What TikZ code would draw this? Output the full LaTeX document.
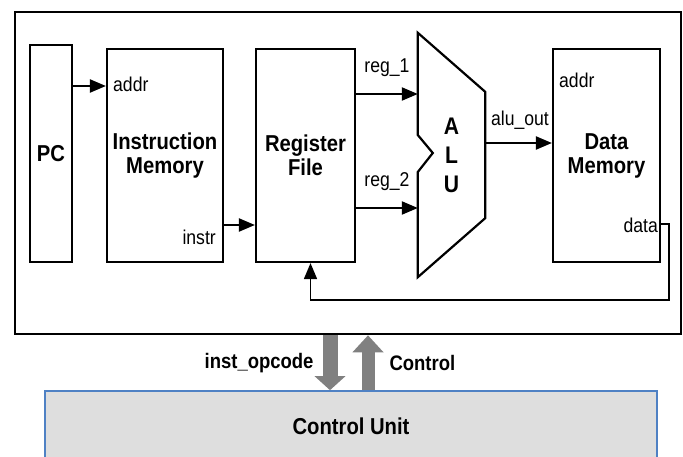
\documentclass[tikz,border=0pt]{standalone}
\usepackage{fontspec}
\setmainfont{Liberation Sans}[FakeStretch=0.88]
\usepackage{tikz}
\usetikzlibrary{shapes,arrows.meta,positioning}

\definecolor{cuedge}{RGB}{79,129,196}
\definecolor{cufill}{RGB}{222,222,222}

\tikzset{
  block/.style={draw, line width=2.2pt, align=center, inner sep=0pt,
    font=\fontsize{23}{24}\selectfont\bfseries},
  port/.style={inner sep=0pt, font=\fontsize{20}{22}\selectfont},
  sig/.style={line width=2.2pt, -{Triangle[length=16pt,width=13pt]}},
  bus/.style={line width=15pt, draw=gray, -{Triangle[length=14pt,width=30pt]}},
  buslabel/.style={inner sep=0pt, font=\fontsize{21}{23}\selectfont\bfseries}
}

\begin{document}
\begin{tikzpicture}[x=1pt,y=-1pt]
\clip (0,0) rectangle (683,457);
\fill[white] (0,0) rectangle (683,457);

% datapath
\node[draw, line width=2.6pt, minimum width=666pt, minimum height=322pt] (cpu) at (348,173) {};
\node[block, minimum width=42pt, minimum height=217pt] (pc) at (51,153.5) {PC};
\node[block, minimum width=116pt, minimum height=213pt] (imem) at (165,155.5) {Instruction\\Memory};
\node[block, minimum width=99pt, minimum height=213pt] (rf) at (305.5,155.5) {Register\\File};
\node[block, minimum width=107pt, minimum height=213pt] (dmem) at (606.5,155.5) {Data\\Memory};

% alu
\node[align=center, inner sep=0pt, minimum width=67pt, minimum height=244pt,
  font=\fontsize{24}{29}\selectfont\bfseries] (alu) at (451.5,155) {A\\L\\U};
\draw[line width=2.2pt, line join=miter] (alu.north west) -- ([yshift=-59]alu.north east)
  -- ([yshift=59]alu.south east) -- (alu.south west) -- ([yshift=-17]alu.west)
  -- ([xshift=15,yshift=2]alu.west) -- ([yshift=20]alu.west) -- cycle;

% port labels
\node[port, anchor=west] (iaddr) at (113,84) {addr};
\node[port, anchor=east] (instr) at (216,237) {instr};
\node[port] (reg1) at (387,68) {reg\_1};
\node[port] (reg2) at (387,182) {reg\_2};
\node[port] (aluout) at (520,120) {alu\_out};
\node[port, anchor=west] (daddr) at (559,80) {addr};
\node[port, anchor=east] (ddata) at (658,225) {data};

% wires
\coordinate (ya) at (0,86);
\coordinate (yi) at (0,225);
\coordinate (y1) at (0,94);
\coordinate (y2) at (0,208);
\coordinate (yo) at (0,143);
\coordinate (yd) at (0,224);
\coordinate (fb) at (669,300);
\draw[sig] (pc.east |- ya) -- (imem.west |- ya);
\draw[sig] (imem.east |- yi) -- (rf.west |- yi);
\draw[sig] (rf.east |- y1) -- (alu.west |- y1);
\draw[sig] (rf.east |- y2) -- (alu.west |- y2);
\draw[sig] (alu.east |- yo) -- (dmem.west |- yo);
\draw[sig, line width=1.6pt] (dmem.east |- yd) -| (fb) -| ([xshift=5]rf.south);

% control unit
\node[draw=cuedge, fill=cufill, line width=1.6pt, minimum width=612pt, minimum height=70pt,
  font=\fontsize{23}{25}\selectfont\bfseries] (cu) at (351,426) {Control Unit};
\path (cu.north) ++(-21,0) coordinate (opc) ++(38,0) coordinate (ctl);
\draw[bus] (opc |- cpu.south) -- (opc)
  node[buslabel, midway, anchor=east, xshift=-9pt] (opclbl) {inst\_opcode};
\draw[bus, line width=13pt, -{Triangle[length=17pt,width=30pt]}] (ctl) -- (ctl |- cpu.south)
  node[buslabel, midway, anchor=west, xshift=15pt] (ctllbl) {Control};
\end{tikzpicture}
\end{document}
